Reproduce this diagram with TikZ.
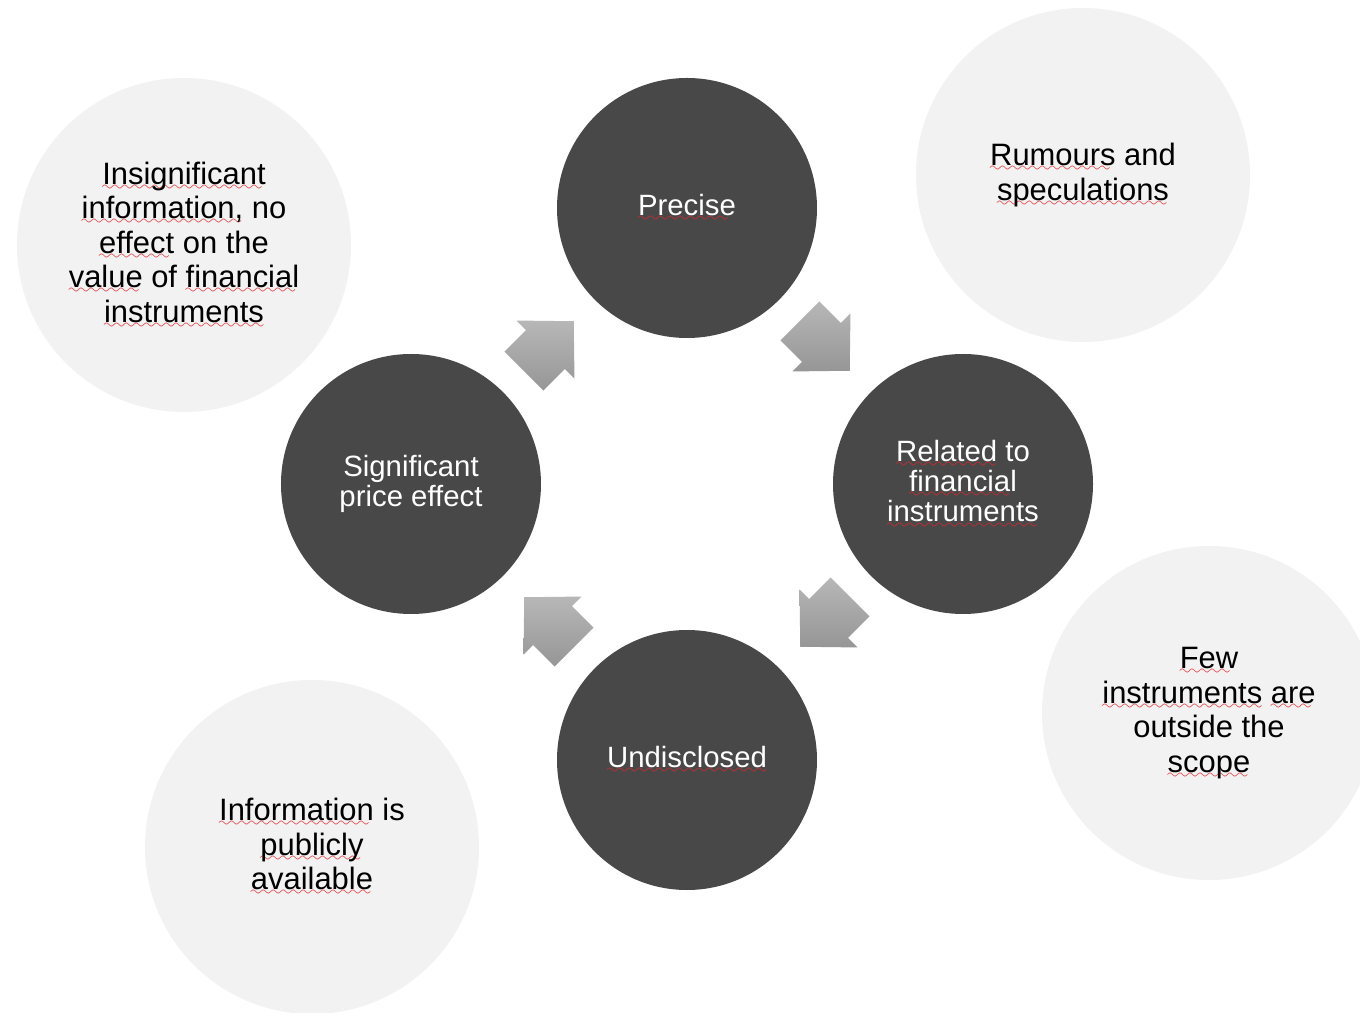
\documentclass[tikz,border=0pt]{standalone}
\usepackage{fontspec}
\setmainfont{Liberation Sans}
\usepackage{tikz}
\usetikzlibrary{shapes, positioning, calc}

\definecolor{keygrey}{HTML}{484848}
\definecolor{notegrey}{HTML}{F2F2F2}
\definecolor{arrowtop}{HTML}{B7B7B7}
\definecolor{arrowbottom}{HTML}{969696}
\definecolor{spellred}{HTML}{E0282E}

% red wavy underline under a word
\font\wavefont=lasy8
\newcommand{\wavy}[1]{\leavevmode\setbox0\hbox{#1}\rlap{\textcolor{spellred}{\hbox to \wd0{\leaders\hbox{\lower3.5pt\hbox{\wavefont\char58}}\hfil}}}\box0\relax}

\tikzstyle{keybox} = [circle, minimum size=5.2cm, inner sep=0pt, fill=keygrey, text=white, align=center, font=\fontsize{16.7}{17.3}\selectfont]
\tikzstyle{notebox} = [circle, minimum size=6.68cm, inner sep=0pt, fill=notegrey, text=black, align=center, font=\fontsize{17.6}{19.6}\selectfont]
\tikzset{flowarrow/.pic={
    \shade[top color=arrowtop, bottom color=arrowbottom] (-0.71,-0.55) -- (-0.1,-0.55) -- (-0.1,-0.82) -- (0.7,0) -- (-0.1,0.82) -- (-0.1,0.55) -- (-0.71,0.55) -- cycle;
}}

\begin{document}
\begin{tikzpicture}

    \fill[white] (-13.74,-10.56) rectangle (13.46,9.68);
    \useasboundingbox (-13.74,-10.56) rectangle (13.46,9.68);

    % outer notes
    \node (insig) [notebox] at (-10.06, 4.78) {\wavy{Insignificant}\\\wavy{information,} no\\\wavy{effect} on the\\\wavy{value} of \wavy{financial}\\\wavy{instruments}};
    \node (rumours) [notebox] at (7.92, 6.18) {\wavy{Rumours} and\\\wavy{speculations}};
    \node (few) [notebox] at (10.44, -4.58) {\wavy{Few}\\\wavy{instruments} \wavy{are}\\outside the\\\wavy{scope}};
    \node (public) [notebox] at (-7.5, -7.26) {\wavy{Information} is\\\wavy{publicly}\\\wavy{available}};

    % the four criteria
    \node (precise) [keybox] at (0, 5.52) {\wavy{Precise}};
    \node (related) [keybox] at (5.52, 0) {\wavy{Related} to\\\wavy{financial}\\\wavy{instruments}};
    \node (undisclosed) [keybox] at (0, -5.52) {\wavy{Undisclosed}};
    \node (signif) [keybox] at (-5.52, 0) {Significant\\price effect};

    \pic[rotate=-45] at ($(precise)!0.5!(related)$) {flowarrow};
    \pic[rotate=-135] at ($(related)!0.5!(undisclosed)$) {flowarrow};
    \pic[rotate=135] at ($(undisclosed)!0.5!(signif)$) {flowarrow};
    \pic[rotate=45] at ($(signif)!0.5!(precise)$) {flowarrow};

\end{tikzpicture}
\end{document}
